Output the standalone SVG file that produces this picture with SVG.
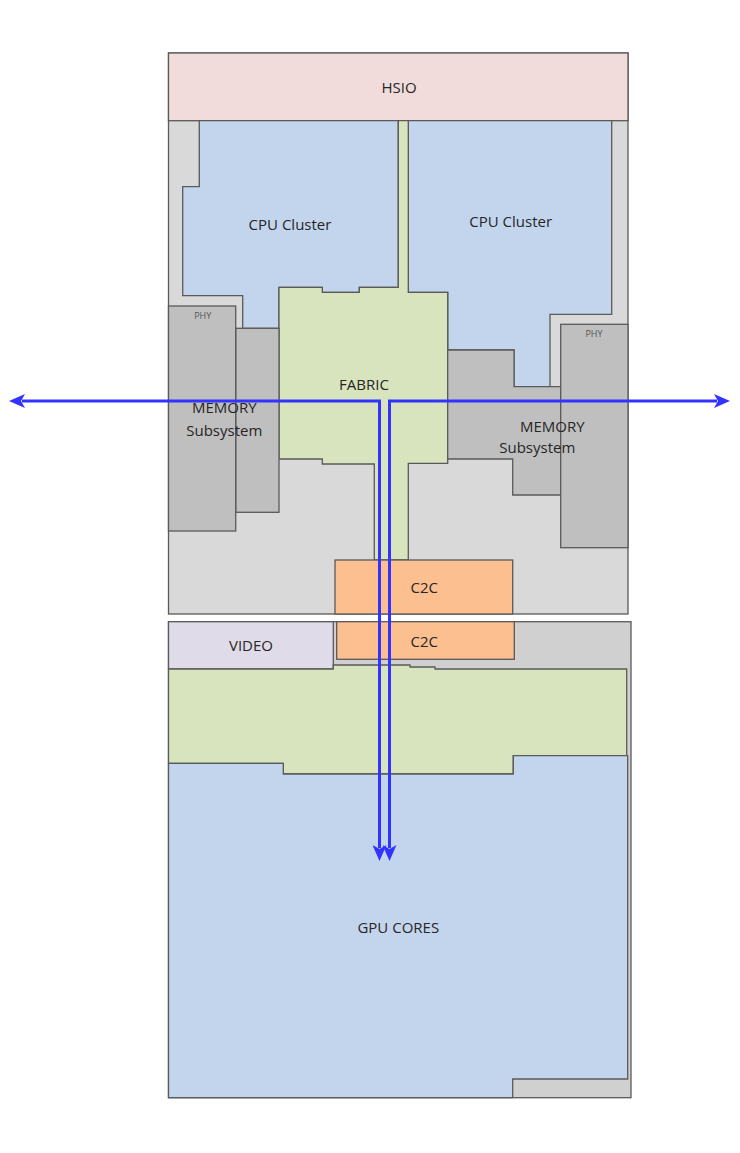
<svg xmlns="http://www.w3.org/2000/svg" width="740" height="1153" viewBox="0 0 740 1153">
<style>
.blk{stroke:#5a5a5a;stroke-width:1.3}
.die{fill:#d9d9d9}
.die2{fill:#d0d0d0}
.hsio{fill:#f2dcdb}
.cpu{fill:#c2d5ed}
.fab{fill:#d7e4bd}
.mem{fill:#bfbfbf}
.c2c{fill:#fcbf8f}
.vid{fill:#e0dbe8}
.t{font-family:"Open Sans","Liberation Sans",sans-serif;fill:#262626;text-anchor:middle;font-size:15px}
.s{font-size:9px;fill:#555}
.arr{fill:none;stroke:#3333ff;stroke-width:3}
</style>
<defs>
<marker id="ah" viewBox="0 0 16 14" refX="3" refY="7" markerWidth="16" markerHeight="14" markerUnits="userSpaceOnUse" orient="auto-start-reverse">
<path d="M0,0 L16,7 L0,14 L4,7 z" fill="#3333ff"/>
</marker>
</defs>
<g id="top-die">
<rect class="blk die" x="168.5" y="53" width="459.5" height="561"/>
</g>
<g id="hsio">
<rect class="blk hsio" x="168.5" y="53" width="459.5" height="67.7"/>
<text class="t" x="399" y="93">HSIO</text>
</g>
<g id="cpu-left">
<polygon class="blk cpu" points="199.3,120.7 398.3,120.7 398.3,287.3 359.3,287.3 359.3,292.3 322.3,292.3 322.3,287.3 279,287.3 279,328.3 242.7,328.3 242.7,295.7 182.7,295.7 182.7,186.7 199.3,186.7"/>
<text class="t" x="290" y="230">CPU Cluster</text>
</g>
<g id="cpu-right">
<polygon class="blk cpu" points="408.3,120.7 611.7,120.7 611.7,314.3 550,314.3 550,386.7 514,386.7 514,350 447.7,350 447.7,292.3 408.3,292.3"/>
<text class="t" x="510.7" y="227">CPU Cluster</text>
</g>
<g id="fabric">
<polygon class="blk fab" points="279,287.3 322.3,287.3 322.3,292.3 359.3,292.3 359.3,287.3 398.3,287.3 398.3,120.7 408.3,120.7 408.3,292.3 447.7,292.3 447.7,463.3 408.3,463.3 408.3,560 374.3,560 374.3,464 322.3,464 322.3,459 279,459"/>
<text class="t" x="364" y="390">FABRIC</text>
</g>
<g id="memory-left">
<rect class="blk mem" x="235.7" y="328.3" width="43.3" height="184"/>
<rect class="blk mem" x="168.5" y="306" width="67.2" height="225"/>
<text class="t s" x="202.7" y="319">PHY</text>
<text class="t" x="224.3" y="413.3">MEMORY</text>
<text class="t" x="224.3" y="435.7">Subsystem</text>
</g>
<g id="memory-right">
<polygon class="blk mem" points="447.7,350 514,350 514,386.7 560.7,386.7 560.7,495 512.7,495 512.7,459 447.7,459"/>
<rect class="blk mem" x="560.7" y="324.3" width="67.3" height="223.4"/>
<text class="t s" x="594" y="336.7">PHY</text>
<text class="t" x="552.3" y="431.7">MEMORY</text>
<text class="t" x="537.3" y="453.3">Subsystem</text>
</g>
<g id="c2c-top">
<rect class="blk c2c" x="335" y="560" width="177.7" height="54"/>
<text class="t" x="424.3" y="592.7">C2C</text>
</g>
<g id="bottom-die">
<rect class="blk die2" x="168.5" y="621.7" width="462.5" height="476"/>
</g>
<g id="video">
<rect class="blk vid" x="168.5" y="621.7" width="164.8" height="47.3"/>
<text class="t" x="251" y="650.7">VIDEO</text>
</g>
<g id="c2c-bottom">
<rect class="blk c2c" x="336.7" y="621.7" width="177.6" height="37.6"/>
<text class="t" x="424.3" y="646.7">C2C</text>
</g>
<g id="fabric-bottom">
<polygon class="blk fab" points="168.5,669 333.3,669 333.3,665 410,665 410,667 435,667 435,669 626.7,669 626.7,755.7 513.3,755.7 513.3,774 283.3,774 283.3,763.3 168.5,763.3"/>
</g>
<g id="gpu">
<polygon class="blk cpu" points="168.5,763.3 283.3,763.3 283.3,774 513.3,774 513.3,755.7 627.7,755.7 627.7,1079 512.7,1079 512.7,1097.7 168.5,1097.7"/>
<text class="t" x="398.3" y="932.7">GPU CORES</text>
</g>
<g id="connectors">
<path class="arr" d="M22,401 L379.5,401 L379.5,848" marker-start="url(#ah)" marker-end="url(#ah)"/>
<path class="arr" d="M717,401 L389.5,401 L389.5,848" marker-start="url(#ah)" marker-end="url(#ah)"/>
</g>
</svg>
